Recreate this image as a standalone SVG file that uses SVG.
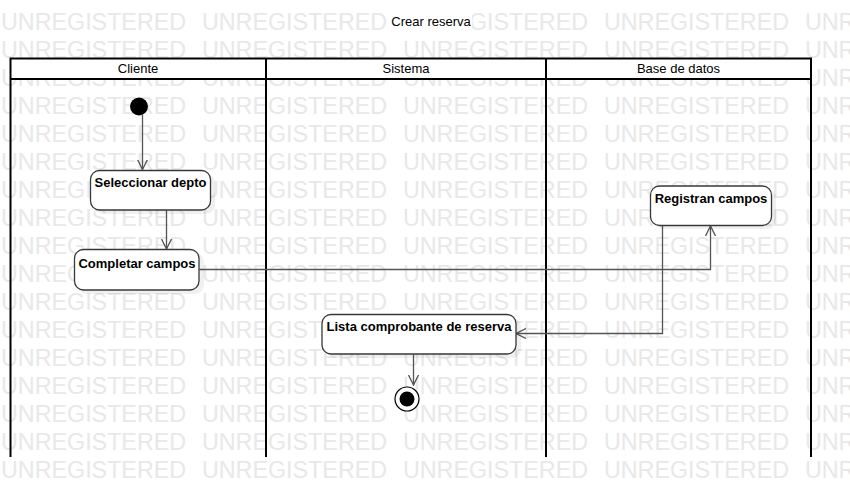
<svg xmlns="http://www.w3.org/2000/svg" width="850" height="498" viewBox="0 0 850 498">
<defs>
<style>
.wm{font-family:"Liberation Sans",Arial,sans-serif;font-size:23.3px;fill:#e8e8e8;word-spacing:9.4px}
.lane{fill:none;stroke:#000;stroke-width:2}
.hdr{font-family:"Liberation Sans",Arial,sans-serif;font-size:13px;fill:#000;text-anchor:middle}
.act{fill:#fff;stroke:#383838;stroke-width:1.3}
.shadow{fill:#000;opacity:0.06}
.lbl{font-family:"Liberation Sans",Arial,sans-serif;font-size:13px;font-weight:bold;fill:#000;text-anchor:middle}
.conn{fill:none;stroke:#555;stroke-width:1.3;marker-end:url(#arr)}
</style>
<marker id="arr" markerUnits="userSpaceOnUse" markerWidth="11" markerHeight="11" viewBox="0 0 11 11" refX="10" refY="5.5" orient="auto">
<path d="M0,0.5 L10,5.5 L0,10.5" fill="none" stroke="#555" stroke-width="1.3"/>
</marker>
</defs>
<rect x="0" y="0" width="850" height="498" fill="#fff"/>
<g id="watermark">
<text class="wm" x="1" y="29.5">UNREGISTERED UNREGISTERED UNREGISTERED UNREGISTERED UNREGISTERED</text>
<text class="wm" x="1" y="57.5">UNREGISTERED UNREGISTERED UNREGISTERED UNREGISTERED UNREGISTERED</text>
<text class="wm" x="1" y="85.5">UNREGISTERED UNREGISTERED UNREGISTERED UNREGISTERED UNREGISTERED</text>
<text class="wm" x="1" y="113.5">UNREGISTERED UNREGISTERED UNREGISTERED UNREGISTERED UNREGISTERED</text>
<text class="wm" x="1" y="141.5">UNREGISTERED UNREGISTERED UNREGISTERED UNREGISTERED UNREGISTERED</text>
<text class="wm" x="1" y="169.5">UNREGISTERED UNREGISTERED UNREGISTERED UNREGISTERED UNREGISTERED</text>
<text class="wm" x="1" y="197.5">UNREGISTERED UNREGISTERED UNREGISTERED UNREGISTERED UNREGISTERED</text>
<text class="wm" x="1" y="225.5">UNREGISTERED UNREGISTERED UNREGISTERED UNREGISTERED UNREGISTERED</text>
<text class="wm" x="1" y="253.5">UNREGISTERED UNREGISTERED UNREGISTERED UNREGISTERED UNREGISTERED</text>
<text class="wm" x="1" y="281.5">UNREGISTERED UNREGISTERED UNREGISTERED UNREGISTERED UNREGISTERED</text>
<text class="wm" x="1" y="309.5">UNREGISTERED UNREGISTERED UNREGISTERED UNREGISTERED UNREGISTERED</text>
<text class="wm" x="1" y="337.5">UNREGISTERED UNREGISTERED UNREGISTERED UNREGISTERED UNREGISTERED</text>
<text class="wm" x="1" y="365.5">UNREGISTERED UNREGISTERED UNREGISTERED UNREGISTERED UNREGISTERED</text>
<text class="wm" x="1" y="393.5">UNREGISTERED UNREGISTERED UNREGISTERED UNREGISTERED UNREGISTERED</text>
<text class="wm" x="1" y="421.5">UNREGISTERED UNREGISTERED UNREGISTERED UNREGISTERED UNREGISTERED</text>
<text class="wm" x="1" y="449.5">UNREGISTERED UNREGISTERED UNREGISTERED UNREGISTERED UNREGISTERED</text>
<text class="wm" x="1" y="477.5">UNREGISTERED UNREGISTERED UNREGISTERED UNREGISTERED UNREGISTERED</text>
</g>
<g id="title">
<rect x="388" y="11" width="84" height="20" fill="#fff"/>
<text class="hdr" x="431" y="25.5">Crear reserva</text>
</g>
<g id="swimlanes">
<rect x="10.5" y="58.5" width="800.5" height="20.5" fill="#fff" stroke="none"/>
<path class="lane" d="M10.5,457 V58.5 H811 V457 M10.5,79 H811 M266,58.5 V457 M546,58.5 V457"/>
<text class="hdr" x="138" y="73">Cliente</text>
<text class="hdr" x="406" y="73">Sistema</text>
<text class="hdr" x="678.5" y="73">Base de datos</text>
</g>
<g id="connectors">
<path class="conn" d="M142.5,115 V169.5"/>
<path class="conn" d="M166.5,210.5 V249"/>
<path class="conn" d="M199.5,269.5 H710.5 V226"/>
<path class="conn" d="M662.5,226 V333.5 H516"/>
<path class="conn" d="M413.5,354.5 V385"/>
</g>
<g id="start">
<circle cx="139" cy="106.5" r="9" fill="#000"/>
</g>
<g id="seleccionar">
<rect class="shadow" x="94" y="174" width="121" height="40" rx="9"/>
<rect class="act" x="90.5" y="170.5" width="120" height="39.5" rx="9"/>
<text class="lbl" x="150.5" y="186.5">Seleccionar depto</text>
</g>
<g id="completar">
<rect class="shadow" x="78" y="253" width="126" height="41" rx="9"/>
<rect class="act" x="74.5" y="249.5" width="124.5" height="40.5" rx="9"/>
<text class="lbl" x="137" y="267.5">Completar campos</text>
</g>
<g id="registran">
<rect class="shadow" x="654" y="189" width="122" height="40" rx="9"/>
<rect class="act" x="650.5" y="186" width="121" height="39.5" rx="9"/>
<text class="lbl" x="711" y="202.5">Registran campos</text>
</g>
<g id="lista">
<rect class="shadow" x="326" y="318" width="195" height="40" rx="9"/>
<rect class="act" x="322" y="314.5" width="194" height="39.5" rx="9"/>
<text class="lbl" x="419" y="330.5">Lista comprobante de reserva</text>
</g>
<g id="end">
<circle cx="407" cy="399" r="12" fill="#fff" stroke="#000" stroke-width="1.2"/>
<circle cx="407" cy="399" r="7.5" fill="#000"/>
</g>
</svg>
